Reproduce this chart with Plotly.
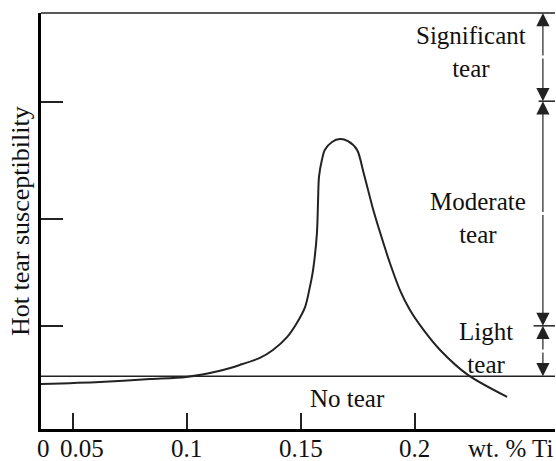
import plotly.graph_objects as go

# ---- data ----
ti_wt = [0.0360, 0.0618, 0.0838, 0.0996, 0.1145, 0.1232, 0.1320, 0.1377, 0.1439,
         0.1482, 0.1518, 0.1539, 0.1553, 0.1570, 0.1575, 0.1579, 0.1592, 0.1605,
         0.1636, 0.1671, 0.1706, 0.1746, 0.1776, 0.1816, 0.1846, 0.1890, 0.1934,
         0.1978, 0.2035, 0.2110, 0.2232, 0.2404]
susceptibility = [10.8, 11.3, 12.0, 12.5, 14.0, 15.4, 17.1, 19.0, 22.1,
                  25.5, 29.3, 34.1, 38.2, 47.1, 55.0, 60.6, 64.7, 67.1,
                  69.0, 69.7, 69.2, 67.1, 61.3, 52.9, 47.4, 39.9, 33.4,
                  28.6, 24.0, 19.0, 13.0, 7.7]

x_tick_values = [0.05, 0.1, 0.15, 0.2]
x_tick_labels = ["0.05", "0.1", "0.15", "0.2"]
origin_label = "0"
origin_value = 0.0369
x_unit_label = "wt. % Ti"
x_unit_pos = 0.2419
y_tick_values = [24.8, 50.5, 78.6]

zone_bounds = [0.0, 12.7, 24.8, 78.8, 100.0]
zone_names = ["No tear", "Light<br>tear", "Moderate<br>tear", "Significant<br>tear"]
zone_label_x = [0.1702, 0.2311, 0.2276, 0.2246]
zone_label_y = [7.45, 19.5, 50.8, 90.6]
arrow_x = 0.2561

X_RANGE = [0.036, 0.2614]
Y_RANGE = [0, 100]
FONT = "Liberation Serif"
FS = 25
INK = "#111111"

fig = go.Figure()
fig.add_trace(go.Scatter(
    x=ti_wt, y=susceptibility, mode="lines",
    line=dict(color="#222222", width=2, shape="spline", smoothing=0.8),
    hoverinfo="skip", showlegend=False))

# no-tear boundary line across full width
fig.add_shape(type="line", xref="paper", x0=0, x1=1, yref="y",
              y0=zone_bounds[1], y1=zone_bounds[1],
              line=dict(color="#222222", width=1.5))
# top border
fig.add_shape(type="line", xref="paper", x0=0, x1=1, yref="paper", y0=1, y1=1,
              line=dict(color="#222222", width=1.5))
# short boundary marks at right
for b, x0 in [(zone_bounds[2], 0.2520), (zone_bounds[3], 0.2542)]:
    fig.add_shape(type="line", xref="x", x0=x0, x1=X_RANGE[1], yref="y",
                  y0=b, y1=b, line=dict(color="#222222", width=1.5))

annotations = []
# zone labels
for name, zx, zy in zip(zone_names, zone_label_x, zone_label_y):
    annotations.append(dict(x=zx, y=zy, xref="x", yref="y", text=name, showarrow=False,
                            font=dict(family=FONT, size=FS, color=INK),
                            xanchor="center", yanchor="middle", align="center"))
# double arrows for tear zones (light, moderate, significant)
for lo, hi in zip(zone_bounds[1:-1], zone_bounds[2:]):
    mid = (lo + hi) / 2
    for tip in (lo, hi):
        annotations.append(dict(x=arrow_x, y=tip, ax=arrow_x, ay=mid,
                                xref="x", yref="y", axref="x", ayref="y",
                                text="", showarrow=True, arrowhead=2,
                                arrowsize=2.2, arrowwidth=1.2, arrowcolor="#222222",
                                standoff=0, startstandoff=0))
# x tick labels
for v, lab in zip(x_tick_values, x_tick_labels):
    annotations.append(dict(x=v, y=0, xref="x", yref="paper", text=lab, showarrow=False,
                            xshift=9 if lab == "0.05" else 0, yshift=-19,
                            font=dict(family=FONT, size=FS, color=INK),
                            xanchor="center", yanchor="middle"))
annotations.append(dict(x=origin_value, y=0, xref="x", yref="paper", text=origin_label,
                        showarrow=False, yshift=-19,
                        font=dict(family=FONT, size=FS, color=INK),
                        xanchor="center", yanchor="middle"))
annotations.append(dict(x=x_unit_pos, y=0, xref="x", yref="paper", text=x_unit_label,
                        showarrow=False, yshift=-19,
                        font=dict(family=FONT, size=FS, color=INK),
                        xanchor="center", yanchor="middle"))
# y title
annotations.append(dict(x=-0.0409, y=0.5, xref="paper", yref="paper",
                        text="Hot tear susceptibility", textangle=-90, showarrow=False,
                        font=dict(family=FONT, size=26, color=INK),
                        xanchor="center", yanchor="middle"))

fig.update_layout(
    width=556, height=461,
    margin=dict(l=41, r=1, t=13, b=32),
    paper_bgcolor="white", plot_bgcolor="white",
    showlegend=False,
    annotations=annotations,
    xaxis=dict(range=X_RANGE, showgrid=False, zeroline=False,
               showline=True, linecolor="black", linewidth=3,
               ticks="inside", ticklen=16, tickwidth=1.5, tickcolor="#222222",
               tickvals=x_tick_values, showticklabels=False),
    yaxis=dict(range=Y_RANGE, showgrid=False, zeroline=False,
               showline=True, linecolor="black", linewidth=3,
               ticks="inside", ticklen=22, tickwidth=1.5, tickcolor="#222222",
               tickvals=y_tick_values, showticklabels=False),
)

fig.write_html("out.html")
